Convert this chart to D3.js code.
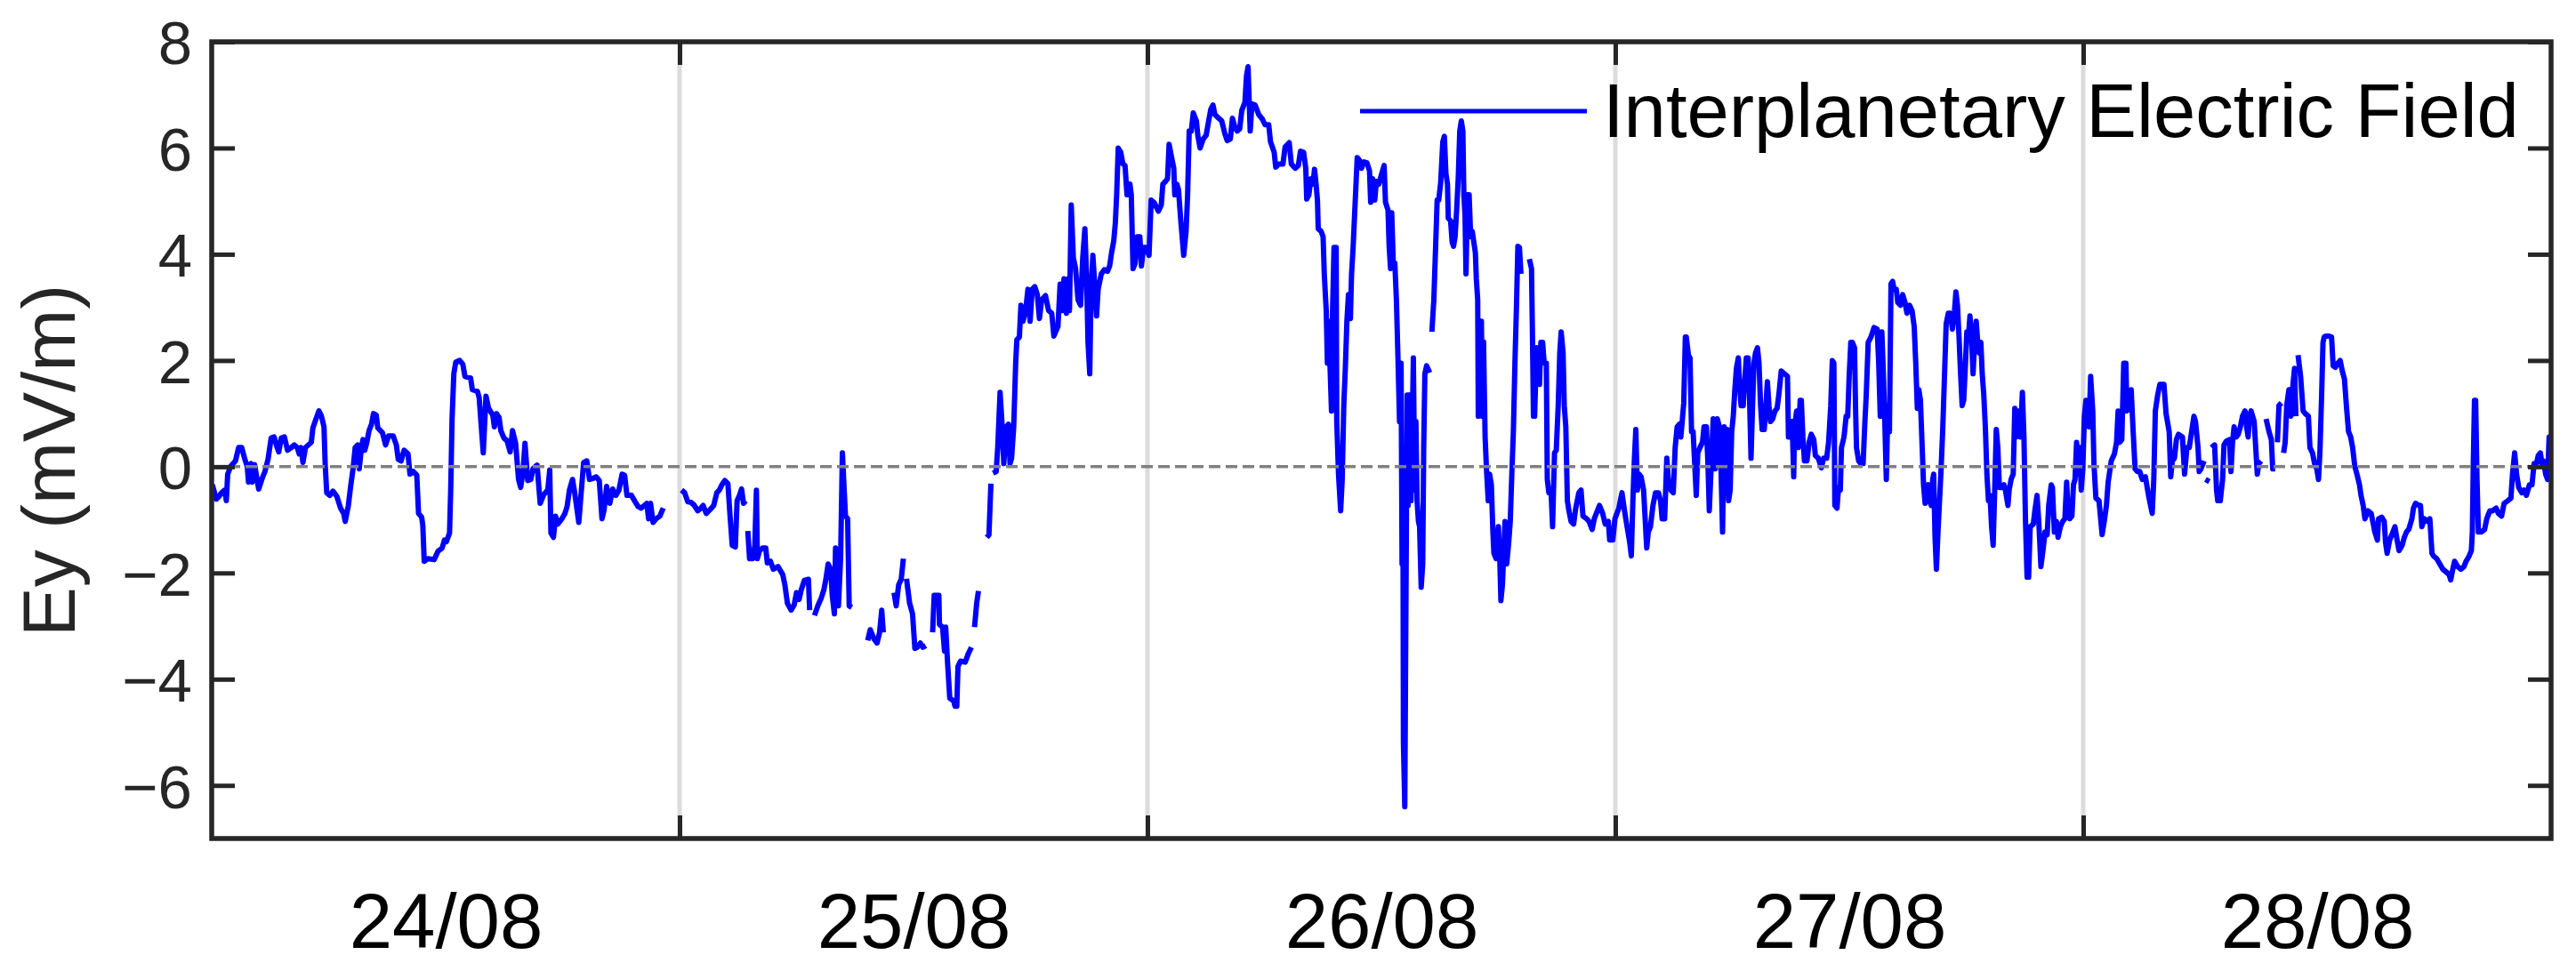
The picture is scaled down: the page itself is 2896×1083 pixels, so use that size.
<!DOCTYPE html>
<html>
<head>
<meta charset="utf-8">
<script src="https://cdn.jsdelivr.net/npm/d3@7"></script>
<style>
  body { margin: 0; background: #fff; }
  svg { display: block; }
  text { font-family: "Liberation Sans", Arial, Helvetica, sans-serif; }
</style>
</head>
<body>
<svg id="chart" width="2896" height="1083"></svg>
<script>
// ---------------- data ----------------
const dayLabels = ["24/08", "25/08", "26/08", "27/08", "28/08"];
const yTickValues = [-6, -4, -2, 0, 2, 4, 6, 8];
const seriesName = "Interplanetary Electric Field";
const yAxisTitle = "Ey (mV/m)";

// hours since each day's midnight (UT) and Ey values (mV/m); null = data gap
const day24Hours = [0.03,0.24,0.35,0.51,0.67,0.75,0.82,0.98,1.22,1.38,1.54,1.70,1.82,1.89,2.01,2.09,2.20,2.41,2.57,2.73,2.89,3.05,3.20,3.36,3.44,3.57,3.73,3.89,4.08,4.24,4.39,4.49,4.58,4.68,4.81,5.11,5.19,5.35,5.50,5.63,5.76,5.82,5.90,6.06,6.22,6.42,6.61,6.77,6.85,7.01,7.12,7.25,7.36,7.49,7.57,7.68,7.76,7.85,7.96,8.07,8.20,8.30,8.44,8.52,8.76,8.92,9.07,9.31,9.47,9.57,9.72,9.87,10.07,10.17,10.34,10.52,10.61,10.77,10.83,10.90,11.09,11.41,11.61,11.82,11.94,12.04,12.20,12.26,12.33,12.42,12.52,12.72,12.88,12.99,13.28,13.37,13.63,13.72,13.83,13.93,14.07,14.20,14.42,14.50,14.61,14.74,14.83,14.99,15.15,15.31,15.43,15.59,15.74,15.85,15.97,16.07,16.21,16.37,16.48,16.69,16.85,17.04,17.24,17.34,17.40,17.53,17.64,17.75,17.96,18.12,18.23,18.35,18.51,18.62,18.83,18.92,19.08,19.24,19.38,19.56,19.72,19.88,20.02,20.13,20.26,20.42,20.57,20.73,20.89,21.05,21.18,21.30,21.53,21.72,21.87,22.03,22.19,22.32,22.41,22.51,22.64,22.80,22.99,23.16,23.60];
const day24Ey = [-0.34,-0.61,-0.57,-0.49,-0.44,-0.64,-0.14,0.01,0.11,0.36,0.36,0.14,0.01,-0.29,0.06,-0.29,0.04,-0.42,-0.24,-0.09,0.14,0.54,0.56,0.36,0.28,0.54,0.56,0.31,0.36,0.41,0.36,0.24,0.36,0.08,0.36,0.46,0.73,0.90,1.05,0.95,0.75,0.06,-0.49,-0.54,-0.46,-0.56,-0.78,-0.88,-1.03,-0.73,-0.39,-0.04,0.36,0.41,-0.04,0.36,0.51,0.31,0.46,0.68,0.80,1.00,0.97,0.73,0.64,0.41,0.58,0.58,0.41,0.14,0.11,0.31,0.24,-0.14,-0.09,-0.16,-0.88,-0.95,-1.11,-1.78,-1.73,-1.75,-1.59,-1.53,-1.38,-1.41,-1.25,-0.44,0.90,1.75,1.97,2.00,1.93,1.70,1.67,1.45,1.42,1.30,0.75,0.26,1.33,1.10,0.97,0.75,1.00,0.93,0.68,0.54,0.49,0.28,0.68,0.44,-0.24,-0.39,-0.09,0.44,-0.26,-0.24,-0.04,0.03,-0.69,-0.52,-0.44,-0.06,-1.25,-1.33,-0.93,-1.08,-0.98,-0.88,-0.75,-0.44,-0.24,-0.49,-1.05,-0.64,0.08,0.11,-0.24,-0.22,-0.19,-0.26,-0.98,-0.81,-0.37,-0.69,-0.42,-0.54,-0.44,-0.14,-0.16,-0.54,-0.54,-0.66,-0.75,-0.78,-0.73,-0.69,-0.98,-0.69,-1.05,-0.98,-0.93,-0.78,null];

const day25Hours = [0.10,0.26,0.42,0.58,0.74,0.93,1.09,1.21,1.37,1.56,1.75,1.91,2.04,2.17,2.32,2.48,2.59,2.70,2.86,2.95,3.07,3.18,3.28,3.39,3.45,3.50,3.59,3.75,3.86,3.94,3.99,4.10,4.26,4.42,4.50,4.66,4.81,5.05,5.29,5.40,5.53,5.72,5.88,6.00,6.13,6.24,6.40,6.61,6.67,6.80,6.92,7.11,7.27,7.40,7.51,7.62,7.75,7.83,7.94,8.00,8.07,8.15,8.26,8.35,8.43,8.51,8.62,8.70,8.83,9.20,9.65,9.78,9.97,10.13,10.26,10.37,10.45,10.70,11.00,11.11,11.24,11.37,11.48,11.56,11.64,11.80,11.95,12.07,12.19,12.35,12.48,12.63,12.80,12.98,13.06,13.30,13.33,13.49,13.59,13.65,13.75,13.86,14.06,14.13,14.22,14.28,14.41,14.65,14.81,14.97,15.05,15.13,15.24,15.33,15.50,15.76,15.87,15.97,16.02,16.08,16.24,16.32,16.44,16.55,16.63,16.76,16.87,16.95,17.03,17.14,17.24,17.30,17.43,17.51,17.62,17.75,17.87,17.98,18.09,18.22,18.35,18.46,18.57,18.77,18.93,19.09,19.20,19.41,19.52,19.61,19.72,19.84,19.93,20.00,20.09,20.20,20.31,20.44,20.57,20.68,20.79,20.88,20.95,21.04,21.11,21.20,21.31,21.39,21.47,21.63,21.79,21.95,22.06,22.16,22.27,22.35,22.42,22.50,22.63,22.74,22.85,22.95,23.02,23.10,23.17,23.26,23.37,23.48,23.61,23.69,23.80,23.93];
const day25Ey = [-0.44,-0.49,-0.66,-0.67,-0.72,-0.83,-0.78,-0.73,-0.88,-0.81,-0.73,-0.49,-0.44,-0.34,-0.26,-0.32,-0.93,-1.48,-1.51,-0.64,-0.54,-0.42,-0.69,-0.64,null,-1.21,-1.73,-1.73,-1.48,-0.44,-1.73,-1.58,-1.53,-1.53,-1.81,-1.78,-1.93,-1.88,-2.03,-2.22,-2.57,-2.70,-2.60,-2.37,-2.50,-2.32,-2.14,-2.12,-2.70,null,-2.80,-2.60,-2.47,-2.32,-2.11,-1.83,-1.93,-2.42,-2.77,-1.53,-2.12,-2.62,-1.73,0.26,-0.34,-0.93,-0.98,-2.62,-2.65,null,-3.27,-3.07,-3.24,-3.32,-3.12,-2.70,-3.12,null,-2.37,-2.62,-2.22,-2.12,-1.73,null,-2.11,-2.57,-2.77,-3.42,-3.40,-3.32,-3.40,-3.37,null,-3.12,-2.42,-2.42,-2.97,-3.02,-3.47,-3.02,-3.71,-4.36,-4.41,-4.51,-4.51,-3.76,-3.66,-3.68,-3.52,-3.40,null,-3.02,-2.57,-2.34,null,-1.33,-1.28,-0.32,null,-0.12,-0.09,0.36,1.40,0.75,0.06,0.75,0.80,0.06,0.16,0.75,1.95,2.39,2.44,3.04,2.74,2.94,3.34,2.74,3.34,3.39,3.24,2.79,3.14,3.22,2.94,2.89,2.46,2.64,3.44,2.94,3.54,2.89,3.54,2.94,4.93,3.93,3.74,3.14,3.04,3.93,4.48,3.54,2.35,1.75,3.34,3.98,3.34,2.84,3.34,3.63,3.71,3.68,3.78,4.03,4.25,4.58,5.12,6.00,5.92,5.70,5.67,5.12,5.32,5.32,5.12,3.73,3.83,4.33,4.33,3.78,4.13,4.13];

const day26Hours = [0.08,0.19,0.35,0.56,0.71,0.79,0.92,1.03,1.11,1.24,1.35,1.40,1.51,1.59,1.71,1.86,1.98,2.06,2.14,2.25,2.35,2.51,2.59,2.70,2.86,3.01,3.14,3.25,3.36,3.46,3.57,3.81,3.97,4.09,4.25,4.36,4.47,4.60,4.73,4.84,5.00,5.08,5.16,5.27,5.36,5.52,5.71,5.90,6.03,6.22,6.31,6.50,6.58,6.74,6.95,7.06,7.27,7.38,7.58,7.74,7.85,8.01,8.12,8.17,8.28,8.38,8.49,8.57,8.65,8.72,8.76,8.91,9.01,9.07,9.17,9.23,9.28,9.36,9.44,9.49,9.57,9.68,9.71,9.80,9.91,9.99,10.07,10.15,10.23,10.31,10.41,10.47,10.55,10.66,10.76,10.87,10.98,11.10,11.26,11.39,11.45,11.55,11.66,11.74,11.87,11.98,12.14,12.21,12.34,12.40,12.47,12.53,12.61,12.69,12.77,12.85,12.93,13.01,13.06,13.10,13.13,13.20,13.26,13.32,13.37,13.45,13.52,13.58,13.64,13.71,13.77,13.83,13.90,13.96,14.04,14.12,14.17,14.23,14.32,14.48,14.54,14.59,14.69,14.78,14.86,14.94,15.04,15.15,15.23,15.31,15.39,15.43,15.55,15.63,15.70,15.78,15.86,15.94,16.02,16.10,16.18,16.23,16.29,16.34,16.42,16.50,16.58,16.66,16.74,16.82,16.87,16.94,16.97,17.05,17.13,17.18,17.24,17.32,17.39,17.48,17.55,17.64,17.72,17.77,17.88,18.00,18.08,18.13,18.21,18.34,18.43,18.53,18.61,18.69,18.77,18.85,18.93,19.00,19.08,19.16,19.40,19.59,19.70,19.75,19.80,19.86,19.96,20.07,20.11,20.18,20.27,20.35,20.46,20.51,20.59,20.70,20.78,20.88,20.97,21.07,21.15,21.22,21.32,21.38,21.46,21.54,21.62,21.73,21.86,21.97,22.13,22.24,22.34,22.53,22.65,22.81,22.92,23.08,23.19,23.35,23.48,23.64,23.71,23.87,23.98];
const day26Ey = [3.98,5.02,4.97,4.81,4.93,5.32,5.37,5.42,6.07,5.82,5.62,5.12,5.32,5.22,4.63,3.98,4.43,5.12,6.32,6.32,6.66,6.51,6.22,6.00,6.17,6.24,6.51,6.73,6.81,6.63,6.59,6.51,6.27,6.14,6.17,6.56,6.41,6.32,6.36,6.71,6.86,7.36,7.53,6.32,6.83,6.81,6.63,6.54,6.44,6.44,6.12,5.92,5.64,5.70,5.70,6.02,6.10,5.70,5.62,5.67,5.94,5.92,5.62,5.04,5.12,5.42,5.32,5.60,5.32,5.02,4.48,4.43,4.33,3.63,2.94,1.95,2.74,1.95,1.05,2.84,4.13,4.13,0.85,-0.14,-0.83,-0.24,1.15,1.85,2.74,3.24,2.79,3.63,4.13,5.02,5.82,5.77,5.62,5.74,5.72,5.57,4.98,5.42,5.02,5.37,5.32,5.47,5.67,4.98,4.83,4.13,3.73,4.78,3.83,3.83,3.14,2.05,0.85,1.95,-1.83,0.36,-5.20,-6.40,-2.52,1.35,-0.73,1.35,-0.64,0.66,2.05,-0.44,0.85,-0.64,-1.03,-1.13,-2.27,-1.83,0.36,1.75,1.90,1.77,null,2.54,3.14,4.13,5.02,5.02,5.34,6.12,6.22,5.52,5.32,4.68,4.63,4.23,4.15,4.33,4.83,5.42,6.32,6.51,6.32,5.12,4.73,3.63,5.12,5.12,4.33,4.43,4.23,4.03,3.54,3.14,0.95,2.74,2.74,0.95,2.35,0.56,-0.04,-0.64,-0.14,-0.34,-1.23,-1.63,-1.73,-1.13,-1.83,-2.52,-2.22,-1.03,-1.83,-1.43,-1.03,-0.14,0.66,1.95,3.04,4.15,4.13,3.63,null,3.91,3.73,2.44,0.95,0.95,2.24,2.19,1.55,2.34,2.34,1.95,1.95,-0.24,-0.49,-0.44,-1.13,0.26,0.31,1.15,2.14,2.54,2.14,1.15,0.75,-0.64,-0.83,-1.03,-1.08,-0.78,-0.49,-0.44,-0.93,-0.98,-1.03,-1.18,-0.98,-0.83,-0.73,-0.88,-1.08,-1.03,-1.38,-1.38,-0.98];

const day27Hours = [0.18,0.34,0.47,0.58,0.74,0.82,0.90,0.98,1.05,1.13,1.21,1.32,1.45,1.61,1.69,1.80,1.93,2.06,2.21,2.32,2.40,2.53,2.64,2.72,2.85,2.97,3.07,3.17,3.28,3.36,3.43,3.51,3.59,3.64,3.75,3.83,3.91,3.99,4.07,4.15,4.23,4.34,4.47,4.55,4.67,4.75,4.82,4.91,5.02,5.13,5.23,5.34,5.42,5.50,5.58,5.66,5.73,5.81,5.89,5.97,6.05,6.13,6.21,6.31,6.37,6.45,6.56,6.62,6.72,6.81,6.88,6.96,7.04,7.11,7.19,7.29,7.37,7.45,7.53,7.64,7.72,7.80,7.88,7.96,8.07,8.19,8.30,8.40,8.51,8.67,8.83,8.88,8.99,9.07,9.15,9.19,9.30,9.38,9.48,9.54,9.62,9.70,9.83,9.94,10.05,10.18,10.26,10.41,10.57,10.68,10.84,10.94,11.05,11.13,11.21,11.26,11.37,11.45,11.54,11.60,11.73,11.84,11.92,12.00,12.08,12.16,12.27,12.32,12.37,12.48,12.59,12.71,12.79,12.87,12.97,13.11,13.27,13.43,13.51,13.59,13.67,13.75,13.83,13.90,13.98,14.06,14.14,14.22,14.30,14.41,14.49,14.62,14.74,14.86,14.96,15.09,15.22,15.33,15.41,15.49,15.57,15.65,15.73,15.81,15.89,15.97,16.05,16.13,16.20,16.28,16.33,16.40,16.47,16.55,16.63,16.71,16.79,16.87,16.97,17.08,17.19,17.29,17.40,17.47,17.55,17.63,17.71,17.79,17.87,17.95,18.03,18.11,18.19,18.27,18.35,18.43,18.51,18.59,18.67,18.75,18.82,18.90,18.98,19.06,19.14,19.22,19.30,19.38,19.46,19.54,19.62,19.70,19.85,19.93,20.01,20.14,20.20,20.30,20.41,20.49,20.57,20.68,20.78,20.88,20.96,21.04,21.12,21.20,21.28,21.44,21.52,21.63,21.72,21.83,21.95,22.04,22.15,22.23,22.36,22.42,22.52,22.63,22.71,22.83,22.95,23.06,23.15,23.22,23.31,23.42,23.50,23.58,23.66,23.74,23.82,23.90,23.98];
const day27Ey = [-0.78,-0.49,-0.83,-1.08,-1.43,-1.68,-0.64,0.16,0.70,-0.44,-0.14,-0.19,-0.44,-1.53,-1.23,-1.13,-0.73,-0.49,-0.49,-0.64,-0.98,-0.98,0.16,-0.24,-0.44,-0.49,0.36,0.75,0.80,0.56,0.85,1.20,2.44,2.44,2.10,2.05,0.66,0.66,0.06,-0.54,0.26,0.36,0.46,0.75,0.75,0.06,-0.83,-0.04,0.90,-0.04,0.90,0.75,-0.04,-1.23,0.75,-0.04,0.70,-0.64,-0.44,0.66,0.95,1.45,1.85,2.05,1.55,1.15,1.15,1.55,2.05,2.05,1.35,0.16,1.15,1.95,2.14,2.24,1.95,1.15,0.70,0.70,1.15,1.60,1.15,0.85,0.90,1.05,1.10,1.40,1.80,1.75,1.70,0.56,0.56,0.85,-0.19,0.75,1.05,0.36,1.25,1.25,0.56,0.11,0.11,0.46,0.61,0.51,0.21,0.16,-0.02,0.16,0.16,0.46,1.15,2.00,1.95,-0.73,-0.78,-0.39,-0.44,0.36,0.56,0.95,0.95,1.75,2.34,2.34,2.24,1.15,0.36,0.11,0.06,0.06,0.75,1.35,2.34,2.44,2.62,2.59,1.95,0.95,2.54,1.75,0.75,-0.24,1.15,0.66,3.44,3.49,3.34,3.34,3.09,3.04,3.24,3.09,2.89,3.04,2.94,2.64,1.95,1.10,1.45,1.25,0.46,-0.34,-0.69,-0.44,-0.34,-0.64,-0.73,-0.24,-0.14,-1.33,-1.93,-1.23,-0.64,-0.04,0.66,1.55,2.69,2.89,2.89,2.59,2.94,3.29,3.04,2.44,1.75,1.15,1.25,1.85,2.54,2.44,2.84,2.44,1.75,2.34,2.74,2.34,2.14,2.34,1.75,1.35,0.75,-0.14,-0.64,-0.54,-1.13,-1.48,-0.44,0.70,0.36,-0.39,-0.39,-0.34,-0.44,-0.73,-0.44,-0.24,-0.14,1.10,0.56,1.05,0.56,1.40,0.56,-1.03,-2.08,-2.08,-1.13,-1.08,-0.83,-0.54,-1.03,-1.88,-1.53,-1.23,-1.28,-0.73,-0.34,-0.39,-1.23,-1.03,-1.33,-1.13,-1.03,-0.98,-0.29,-0.83,-0.98,-0.93,-0.34,-0.24,0.46,-0.14,0.36,-0.44,-0.04];

const day28Hours = [0.06,0.14,0.22,0.30,0.38,0.49,0.55,0.65,0.81,0.97,1.08,1.19,1.28,1.44,1.60,1.71,1.79,1.87,1.98,2.08,2.19,2.24,2.35,2.46,2.55,2.66,2.78,2.90,3.03,3.19,3.35,3.54,3.62,3.70,3.82,3.93,4.14,4.25,4.41,4.49,4.57,4.68,4.78,4.89,5.09,5.20,5.32,5.44,5.52,5.68,5.76,5.89,5.95,6.04,6.20,6.24,6.27,6.47,6.52,6.58,6.74,6.84,6.90,7.03,7.15,7.22,7.34,7.50,7.58,7.66,7.74,7.85,7.95,8.06,8.17,8.30,8.38,8.46,8.53,8.61,8.69,8.77,8.85,8.93,9.01,9.12,9.25,9.38,9.53,9.65,9.72,9.85,9.90,9.96,10.04,10.17,10.22,10.28,10.36,10.44,10.55,10.65,10.76,10.84,10.91,10.96,11.02,11.15,11.28,11.39,11.55,11.63,11.76,11.87,11.98,12.07,12.14,12.23,12.30,12.36,12.45,12.61,12.74,12.82,12.93,13.06,13.18,13.29,13.40,13.50,13.61,13.72,13.82,13.93,14.04,14.17,14.25,14.36,14.45,14.61,14.77,14.88,14.96,15.09,15.15,15.31,15.44,15.51,15.59,15.72,15.83,15.99,16.10,16.20,16.36,16.47,16.58,16.70,16.86,16.94,17.05,17.17,17.30,17.37,17.50,17.65,17.78,17.89,17.97,18.13,18.29,18.45,18.61,18.77,18.85,18.93,19.05,19.21,19.37,19.53,19.64,19.80,19.91,19.96,20.01,20.07,20.13,20.20,20.27,20.43,20.59,20.70,20.86,20.99,21.18,21.30,21.46,21.59,21.78,21.94,22.02,22.13,22.23,22.34,22.50,22.61,22.73,22.89,23.02,23.13,23.25,23.34,23.45,23.53,23.61,23.72,23.82,23.90,24.00];
const day28Ey = [0.95,1.25,0.95,0.75,1.70,1.05,0.06,-0.59,-0.64,-1.28,-1.03,-0.73,-0.29,0.11,0.24,0.46,1.05,0.46,0.51,1.95,1.95,1.05,1.10,1.45,0.75,-0.04,-0.09,-0.09,-0.24,-0.19,-0.54,-0.88,-0.24,1.05,1.35,1.55,1.55,1.00,0.66,-0.19,0.11,0.16,0.51,0.61,0.56,-0.14,0.36,0.36,0.56,0.95,0.85,0.36,-0.09,-0.04,0.11,null,-0.24,-0.28,null,0.36,0.41,-0.44,-0.64,-0.64,-0.24,0.41,0.48,0.51,-0.09,0.46,0.75,0.56,0.61,0.75,0.95,1.05,0.75,0.56,0.95,1.05,0.95,0.85,0.36,-0.14,0.06,0.11,null,0.90,0.66,0.51,-0.04,-0.04,null,0.46,1.15,1.20,null,0.26,0.46,1.15,1.45,0.95,1.55,1.85,0.95,null,2.10,1.70,1.05,1.00,0.95,0.36,0.26,0.06,-0.04,-0.24,0.26,1.35,2.34,2.44,2.46,2.46,2.44,1.90,1.87,1.95,2.00,1.80,1.65,1.15,0.66,0.56,0.36,0.01,-0.14,-0.34,-0.54,-0.73,-0.98,-0.83,-0.88,-1.08,-1.23,-1.38,-0.98,-0.95,-1.03,-1.43,-1.63,-1.38,-1.28,-1.13,-1.38,-1.58,-1.48,-1.33,-1.23,-1.18,-0.98,-0.78,-0.69,-0.72,-0.73,-1.13,-0.98,-1.03,-0.98,-1.63,-1.68,-1.73,-1.83,-1.93,-1.98,-2.03,-2.13,-1.98,-1.78,-1.88,-1.93,-1.88,-1.78,-1.68,-1.58,-1.23,0.06,1.25,1.25,-0.24,-1.23,-1.23,-1.18,-0.98,-0.83,-0.83,-0.78,-0.88,-0.93,-0.69,-0.64,-0.59,-0.14,0.26,-0.14,-0.39,-0.49,-0.44,-0.54,-0.34,-0.34,0.06,0.06,0.21,0.26,0.06,0.11,-0.14,-0.24,0.56,0.36];

const dayHourArrays = [day24Hours, day25Hours, day26Hours, day27Hours, day28Hours];
const dayEyArrays = [day24Ey, day25Ey, day26Ey, day27Ey, day28Ey];

// ---------------- build ----------------
const startMs = Date.UTC(2018, 7, 24);
const HOUR = 3600e3;
const points = [];
dayHourArrays.forEach((hrs, di) => {
  hrs.forEach((h, k) => {
    points.push({ t: new Date(startMs + (di * 24 + h) * HOUR), v: dayEyArrays[di][k] });
  });
});
const dayBoundaries = d3.range(1, dayLabels.length).map(i => new Date(startMs + i * 24 * HOUR));
const dayNoons = dayLabels.map((_, i) => new Date(startMs + (i * 24 + 12) * HOUR));

const L = 238, R = 2868, T = 47, B = 943;
const x = d3.scaleUtc().domain([new Date(startMs), new Date(startMs + dayLabels.length * 24 * HOUR)]).range([L, R]);
const y = d3.scaleLinear().domain([-7, 8]).range([B, T]);

const svg = d3.select("#chart");
const axisColor = "#262626";

// grid lines at day boundaries
svg.append("g").selectAll("line").data(dayBoundaries).join("line")
  .attr("x1", d => x(d)).attr("x2", d => x(d))
  .attr("y1", T).attr("y2", B)
  .attr("stroke", "#dcdcdc").attr("stroke-width", 5);

// data line
svg.append("defs").append("clipPath").attr("id", "clip")
  .append("rect").attr("x", L).attr("y", T).attr("width", R - L).attr("height", B - T);

const line = d3.line().defined(d => d.v !== null).x(d => x(d.t)).y(d => y(d.v));
svg.append("path").datum(points)
  .attr("clip-path", "url(#clip)")
  .attr("fill", "none").attr("stroke", "#0000ff").attr("stroke-width", 6)
  .attr("stroke-linejoin", "round").attr("stroke-linecap", "butt")
  .attr("d", line);

// zero reference line
svg.append("line")
  .attr("x1", L).attr("x2", R).attr("y1", y(0)).attr("y2", y(0))
  .attr("stroke", "#808080").attr("stroke-width", 3.5).attr("stroke-dasharray", "13,6");

// ticks (inward)
function styleTicks(g) {
  g.select(".domain").remove();
  g.selectAll(".tick line").attr("stroke", axisColor).attr("stroke-width", 5);
}
svg.append("g").attr("transform", `translate(${L},0)`)
  .call(d3.axisLeft(y).tickValues(yTickValues).tickSize(-26).tickPadding(22))
  .call(styleTicks)
  .call(g => g.selectAll(".tick text")
    .attr("font-size", 69).attr("fill", axisColor).attr("dy", "0.36em")
    .style("font-family", '"Liberation Sans", Arial, sans-serif'));
svg.append("g").attr("transform", `translate(${R},0)`)
  .call(d3.axisRight(y).tickValues(yTickValues).tickSize(-26).tickFormat(""))
  .call(styleTicks);
svg.append("g").attr("transform", `translate(0,${B})`)
  .call(d3.axisBottom(x).tickValues(dayBoundaries).tickSize(-26).tickFormat(""))
  .call(styleTicks);
svg.append("g").attr("transform", `translate(0,${T})`)
  .call(d3.axisTop(x).tickValues(dayBoundaries).tickSize(-26).tickFormat(""))
  .call(styleTicks);

// day labels
svg.append("g").attr("transform", `translate(0,${B})`)
  .call(d3.axisBottom(x).tickValues(dayNoons).tickSize(0).tickFormat((d, i) => dayLabels[i]))
  .call(g => g.select(".domain").remove())
  .call(g => g.selectAll(".tick text")
    .attr("y", 123).attr("dy", 0).attr("font-size", 87).attr("fill", "#000")
    .style("font-family", '"Liberation Sans", Arial, sans-serif'));

// frame
svg.append("rect").attr("x", L).attr("y", T).attr("width", R - L).attr("height", B - T)
  .attr("fill", "none").attr("stroke", axisColor).attr("stroke-width", 5.5);

// y axis title
svg.append("text")
  .attr("transform", "translate(84,518) rotate(-90)")
  .attr("text-anchor", "middle").attr("font-size", 84).attr("fill", axisColor)
  .text(yAxisTitle);

// legend
svg.append("line").attr("x1", 1529).attr("x2", 1784).attr("y1", 125).attr("y2", 125)
  .attr("stroke", "#0000ff").attr("stroke-width", 5);
svg.append("text").attr("x", 1802).attr("y", 154).attr("font-size", 85).attr("fill", "#000")
  .text(seriesName);
</script>
</body>
</html>
